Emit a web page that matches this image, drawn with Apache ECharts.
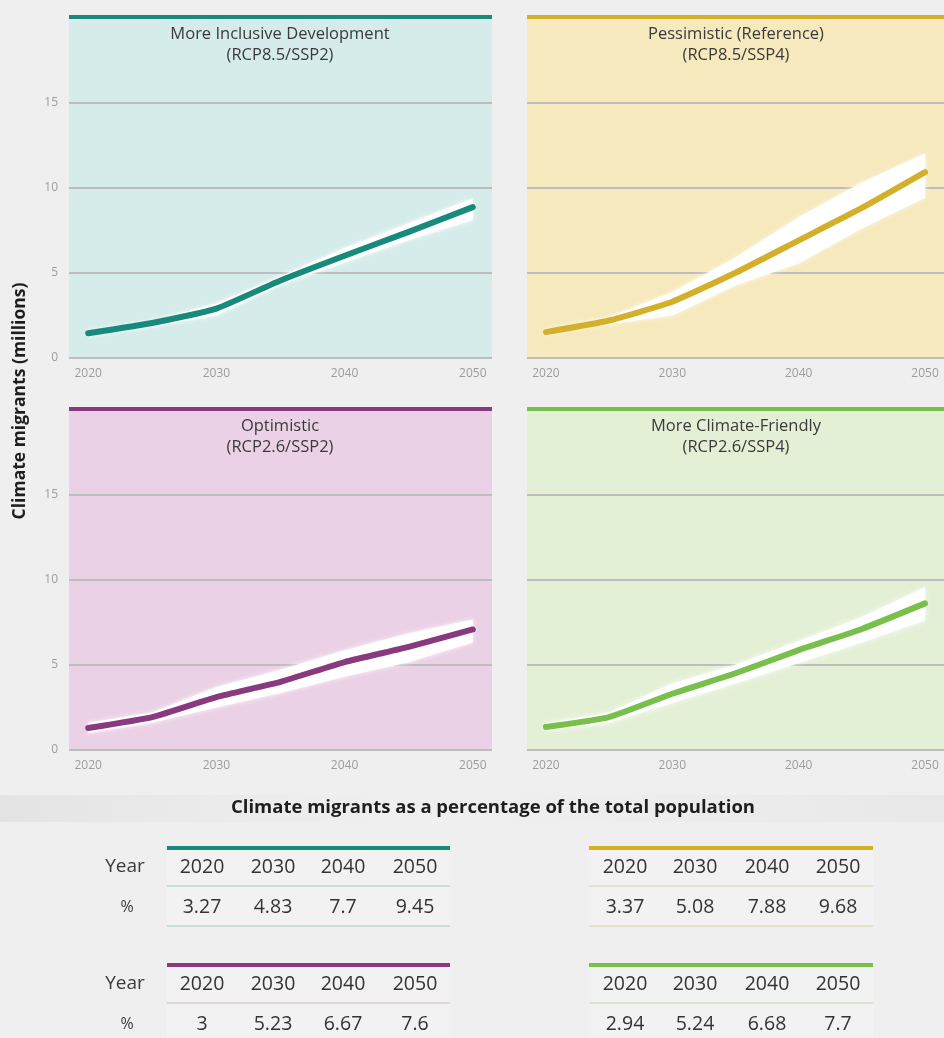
<!DOCTYPE html>
<html>
<head>
<meta charset="utf-8">
<title>Climate migrants</title>
<script src="https://cdn.jsdelivr.net/npm/echarts@6/dist/echarts.min.js"></script>
<style>
  html, body { margin: 0; padding: 0; background: #efefef; }
  #chart { width: 944px; height: 1038px; }
</style>
</head>
<body>
<div id="chart"></div>
<script>
// Projection years (5-year steps)
const years = [2020, 2025, 2030, 2035, 2040, 2045, 2050];

// Climate migrants, millions: central estimate and uncertainty band per scenario
const inclusiveMain  = [1.45, 2.05, 2.9, 4.55, 6.0, 7.4, 8.85];
const inclusiveUpper = [1.6, 2.2, 3.2, 4.8, 6.45, 7.9, 9.35];
const inclusiveLower = [1.3, 1.85, 2.5, 4.3, 5.6, 6.9, 8.1];

const pessimisticMain  = [1.52, 2.2, 3.3, 5.0, 6.9, 8.8, 10.9];
const pessimisticUpper = [1.65, 2.4, 3.85, 5.9, 8.25, 10.3, 12.0];
const pessimisticLower = [1.4, 2.0, 2.5, 4.25, 5.55, 7.6, 9.4];

const optimisticMain  = [1.29, 1.93, 3.1, 4.0, 5.16, 6.05, 7.07];
const optimisticUpper = [1.6, 2.2, 3.7, 4.7, 5.85, 6.85, 7.65];
const optimisticLower = [1.0, 1.6, 2.5, 3.35, 4.3, 5.15, 6.3];

const friendlyMain  = [1.35, 1.93, 3.3, 4.5, 5.86, 7.1, 8.6];
const friendlyUpper = [1.55, 2.2, 3.9, 5.0, 6.4, 7.8, 9.55];
const friendlyLower = [1.15, 1.6, 2.75, 3.9, 5.1, 6.3, 7.6];

// Axis tick labels
const xTicks = [2020, 2030, 2040, 2050];
const yTicks = [0, 5, 10, 15];

// Share of total population (%), by scenario
const tableYears = [2020, 2030, 2040, 2050];
const pctInclusive   = [3.27, 4.83, 7.7, 9.45];
const pctPessimistic = [3.37, 5.08, 7.88, 9.68];
const pctOptimistic  = [3, 5.23, 6.67, 7.6];
const pctFriendly    = [2.94, 5.24, 6.68, 7.7];

const FONT = '"Open Sans", "Noto Sans", sans-serif';

const panels = [
  { title: 'More Inclusive Development', sub: '(RCP8.5/SSP2)', color: '#178a7b', bg: '#d5ecea',
    main: inclusiveMain, upper: inclusiveUpper, lower: inclusiveLower,
    grid: { left: 69, top: 17, width: 423, height: 341 }, yLabels: true, cx: 280 },
  { title: 'Pessimistic (Reference)', sub: '(RCP8.5/SSP4)', color: '#d4b02a', bg: '#f6e9bd',
    main: pessimisticMain, upper: pessimisticUpper, lower: pessimisticLower,
    grid: { left: 527, top: 17, width: 420, height: 341 }, yLabels: false, cx: 736 },
  { title: 'Optimistic', sub: '(RCP2.6/SSP2)', color: '#893a7e', bg: '#ebd1e5',
    main: optimisticMain, upper: optimisticUpper, lower: optimisticLower,
    grid: { left: 69, top: 409, width: 423, height: 341 }, yLabels: true, cx: 280 },
  { title: 'More Climate-Friendly', sub: '(RCP2.6/SSP4)', color: '#78bf4c', bg: '#e4f0d6',
    main: friendlyMain, upper: friendlyUpper, lower: friendlyLower,
    grid: { left: 527, top: 409, width: 420, height: 341 }, yLabels: false, cx: 736 }
];

const grids = [], xAxes = [], yAxes = [], series = [], titles = [];

panels.forEach((p, i) => {
  grids.push(Object.assign({ show: true, backgroundColor: p.bg, borderWidth: 0, containLabel: false }, p.grid));

  xAxes.push({
    type: 'value', gridIndex: i, min: 2018.5, max: 2051.5,
    axisLine: { show: false }, axisTick: { show: false }, splitLine: { show: false },
    axisLabel: {
      customValues: xTicks, color: '#9c9c9c', fontSize: 12, fontFamily: FONT, margin: 10,
      formatter: v => String(v)
    }
  });

  yAxes.push({
    type: 'value', gridIndex: i, min: 0, max: 20, interval: 5,
    axisLine: { show: false }, axisTick: { show: false },
    splitLine: { show: true, lineStyle: { color: '#bdbdbd', width: 2 } },
    axisLabel: {
      show: p.yLabels, customValues: yTicks, color: '#9c9c9c', fontSize: 12, fontFamily: FONT, margin: 11
    }
  });

  // uncertainty band: polygon between the upper and lower bounds
  series.push({
    type: 'custom', xAxisIndex: i, yAxisIndex: i, silent: true, z: 1,
    data: years.map((y, k) => [y, p.lower[k], p.upper[k]]),
    encode: { x: 0, y: [1, 2] },
    renderItem: (params, api) => {
      if (params.dataIndex !== 0) return null;
      const n = params.dataInsideLength || years.length;
      const top = [], bot = [];
      for (let k = 0; k < years.length; k++) {
        top.push(api.coord([api.value(0, k), api.value(2, k)]));
        bot.push(api.coord([api.value(0, k), api.value(1, k)]));
      }
      return {
        type: 'polygon',
        shape: { points: top.concat(bot.reverse()) },
        style: { fill: 'rgba(255,255,255,0.95)', shadowBlur: 4, shadowColor: 'rgba(255,255,255,0.9)' }
      };
    }
  });

  // central projection
  series.push({
    type: 'line', xAxisIndex: i, yAxisIndex: i, smooth: 0.15, z: 3,
    symbol: 'none',
    lineStyle: { color: p.color, width: 6, cap: 'round', join: 'round' },
    data: years.map((y, k) => [y, p.main[k]]),
    markLine: {
      silent: true, symbol: 'none', label: { show: false },
      lineStyle: { color: p.color, width: 4, type: 'solid' },
      data: [{ yAxis: 20 }]
    }
  });

  titles.push({
    type: 'text', x: p.cx, y: p.grid.top + 17,
    style: { text: p.title, fill: '#3a3a3a', font: '16.5px ' + FONT, align: 'center', verticalAlign: 'middle' }
  });
  titles.push({
    type: 'text', x: p.cx, y: p.grid.top + 38,
    style: { text: p.sub, fill: '#3a3a3a', font: '16.5px ' + FONT, align: 'center', verticalAlign: 'middle' }
  });
});

// Percentage tables
const tables = [
  { pct: pctInclusive,   color: '#178a7b', sep: '#bcd9d5', x0: 167, x1: 450, cols: [202, 273, 343, 415], top: 848, rowLabels: true },
  { pct: pctPessimistic, color: '#d4b02a', sep: '#e3dcbf', x0: 589, x1: 873, cols: [625, 695, 767, 838], top: 848, rowLabels: false },
  { pct: pctOptimistic,  color: '#893a7e', sep: '#d9cbd6', x0: 167, x1: 450, cols: [202, 273, 343, 415], top: 965, rowLabels: true },
  { pct: pctFriendly,    color: '#78bf4c', sep: '#d2dfc8', x0: 589, x1: 873, cols: [625, 695, 767, 838], top: 965, rowLabels: false }
];

const tableEls = [];
const cellFont = '19.5px ' + FONT;
tables.forEach(t => {
  tableEls.push({ type: 'rect', shape: { x: t.x0, y: t.top, width: t.x1 - t.x0, height: 78 },
    style: { fill: 'rgba(255,255,255,0.2)' } });
  tableEls.push({ type: 'line', shape: { x1: t.x0, y1: t.top, x2: t.x1, y2: t.top },
    style: { stroke: t.color, lineWidth: 4 } });
  tableEls.push({ type: 'line', shape: { x1: t.x0, y1: t.top + 38, x2: t.x1, y2: t.top + 38 },
    style: { stroke: t.sep, lineWidth: 1.5 } });
  tableEls.push({ type: 'line', shape: { x1: t.x0, y1: t.top + 78, x2: t.x1, y2: t.top + 78 },
    style: { stroke: t.sep, lineWidth: 1.5 } });
  if (t.rowLabels) {
    tableEls.push({ type: 'text', x: 125, y: t.top + 19,
      style: { text: 'Year', fill: '#3a3a3a', font: '19px ' + FONT, align: 'center', verticalAlign: 'middle' } });
    tableEls.push({ type: 'text', x: 127, y: t.top + 59,
      style: { text: '%', fill: '#3a3a3a', font: '16px ' + FONT, align: 'center', verticalAlign: 'middle' } });
  }
  tableYears.forEach((yr, k) => {
    tableEls.push({ type: 'text', x: t.cols[k], y: t.top + 19,
      style: { text: String(yr), fill: '#333333', font: cellFont, align: 'center', verticalAlign: 'middle' } });
    tableEls.push({ type: 'text', x: t.cols[k], y: t.top + 59,
      style: { text: String(t.pct[k]), fill: '#333333', font: cellFont, align: 'center', verticalAlign: 'middle' } });
  });
});

const chart = echarts.init(document.getElementById('chart'), null, { renderer: 'canvas' });
chart.setOption({
  backgroundColor: '#efefef',
  animation: false,
  grid: grids,
  xAxis: xAxes,
  yAxis: yAxes,
  series: series,
  graphic: [
    {
      type: 'rect', shape: { x: 0, y: 795, width: 944, height: 27 }, silent: true,
      style: {
        fill: new echarts.graphic.LinearGradient(0, 0, 1, 0, [
          { offset: 0, color: 'rgba(226,226,226,0.9)' },
          { offset: 0.45, color: 'rgba(240,240,240,0.5)' },
          { offset: 1, color: 'rgba(230,230,230,0.8)' }
        ])
      }
    },
    {
      type: 'text', x: 20, y: 401, rotation: Math.PI / 2,
      style: { text: 'Climate migrants (millions)', fill: '#1e1e1e', font: 'bold 17.5px ' + FONT, align: 'center', verticalAlign: 'middle' }
    },
    {
      type: 'text', x: 493, y: 808,
      style: { text: 'Climate migrants as a percentage of the total population', fill: '#1e1e1e', font: 'bold 18.5px ' + FONT, align: 'center', verticalAlign: 'middle' }
    }
  ].concat(titles, tableEls)
});
</script>
</body>
</html>
